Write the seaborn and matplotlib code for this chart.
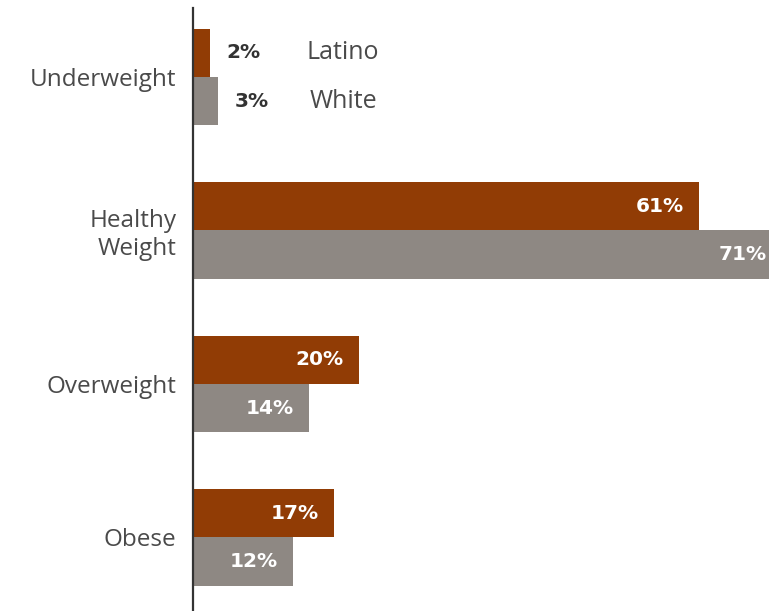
import seaborn as sns
import matplotlib.pyplot as plt
import pandas as pd
from matplotlib import font_manager

categories = ["Underweight", "Healthy\nWeight", "Overweight", "Obese"]
groups = ["Latino", "White"]
latino = [2, 61, 20, 17]
white = [3, 71, 14, 12]

BROWN = "#913C05"
GREY = "#8E8883"
TEXT = "#4a4a4a"

df = pd.DataFrame({
    "category": categories * 2,
    "group": ["Latino"] * len(categories) + ["White"] * len(categories),
    "value": latino + white,
})

sns.set_style("white")
plt.rcParams["font.family"] = ["Open Sans", "DejaVu Sans"]

# condensed font for the numbers if we have one
names = {f.name for f in font_manager.fontManager.ttflist}
if "Liberation Sans Narrow" in names:
    num_font, num_size = "Liberation Sans Narrow", 19
else:
    num_font, num_size = "DejaVu Sans", 14.5

fig = plt.figure(figsize=(7.69, 6.11), dpi=100)
ax = fig.add_axes([0.251, 0.0, 0.749, 0.987])

sns.barplot(data=df, y="category", x="value", hue="group", orient="h",
            palette=[BROWN, GREY], width=0.63, saturation=1, legend=False,
            linewidth=0, edgecolor="none", ax=ax)

ax.set_xlim(0, 69.4)
ax.set_ylim(3.48, -0.45)
ax.set_xlabel("")
ax.set_ylabel("")
ax.set_xticks([])
sns.despine(ax=ax, top=True, right=True, bottom=True, left=False)
ax.spines["left"].set_color("#333333")
ax.spines["left"].set_linewidth(1.6)
ax.tick_params(axis="y", length=0, pad=12, labelsize=17.5, labelcolor=TEXT)

for bars in ax.containers:
    for bar in bars:
        val = bar.get_width()
        yc = bar.get_y() + bar.get_height() / 2
        if val < 5:
            ax.annotate(f"{val:.0f}%", (val, yc), xytext=(12, 0),
                        textcoords="offset points", ha="left", va="center",
                        color="#333333", fontsize=num_size,
                        fontweight="bold", family=num_font)
        else:
            ax.annotate(f"{val:.0f}%", (val, yc), xytext=(-11, 0),
                        textcoords="offset points", ha="right", va="center",
                        color="white", fontsize=num_size,
                        fontweight="bold", family=num_font,
                        annotation_clip=False)

# group names next to the Underweight bars instead of a legend
for bars, name in zip(ax.containers, groups):
    bar = bars[0]
    yc = bar.get_y() + bar.get_height() / 2
    ax.text(18.1, yc, name, ha="center", va="center", fontsize=18,
            color=TEXT)

fig.savefig("out.png", dpi=100)
